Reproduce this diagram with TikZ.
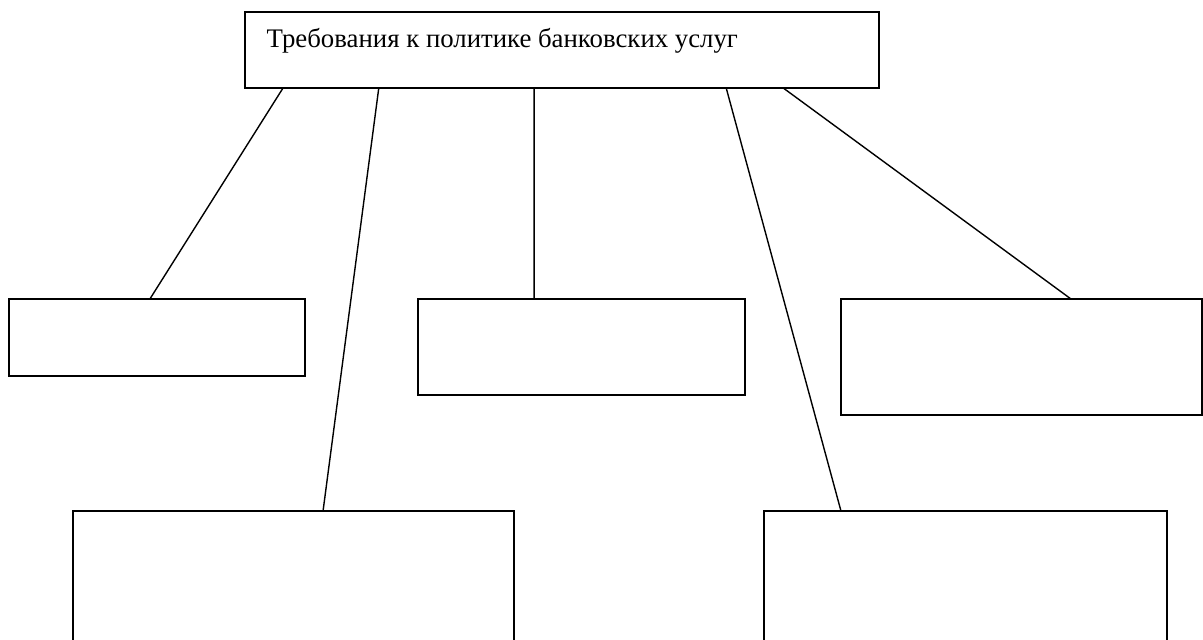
\documentclass[tikz,border=0pt]{standalone}
\usepackage{fontspec}
\setmainfont{Liberation Serif}
\usetikzlibrary{calc}
\begin{document}
\begin{tikzpicture}[x=1pt,y=-1pt,
  box/.style={draw=black,line width=1.5pt,rectangle,inner sep=0pt,outer sep=0pt,anchor=north west},
  link/.style={draw=black,line width=1.4pt}]
  \useasboundingbox (0,0) rectangle (1203,640);
  \fill[white] (0,0) rectangle (1203,640);
  \clip (0,0) rectangle (1203,640);

  % top box and its caption
  \node[box,minimum width=634pt,minimum height=76pt] (top) at (245,12) {};
  \node[anchor=base west,inner sep=0pt,font=\fontsize{26.8}{31}\selectfont] (title)
    at ($(top.north west)+(21.5,35)$) {Требования к политике банковских услуг};

  % middle row
  \node[box,minimum width=296pt,minimum height=77pt] (l) at (9,299) {};
  \node[box,minimum width=327pt,minimum height=96pt] (m) at (418,299) {};
  \node[box,minimum width=361pt,minimum height=116pt] (r) at (841,299) {};

  % bottom row (runs off the lower edge)
  \node[box,minimum width=441pt,minimum height=160pt] (bl) at (73,511) {};
  \node[box,minimum width=403pt,minimum height=160pt] (br) at (764,511) {};

  % connectors
  \draw[link] ($(top.south west)!0.060!(top.south east)$) -- ($(l.north west)!0.476!(l.north east)$);
  \draw[link] ($(top.south west)!0.211!(top.south east)$) -- ($(bl.north west)!0.567!(bl.north east)$);
  \draw[link] ($(top.south west)!0.456!(top.south east)$) -- ($(m.north west)!0.355!(m.north east)$);
  \draw[link] ($(top.south west)!0.759!(top.south east)$) -- ($(br.north west)!0.191!(br.north east)$);
  \draw[link] ($(top.south west)!0.849!(top.south east)$) -- ($(r.north west)!0.637!(r.north east)$);
\end{tikzpicture}
\end{document}
